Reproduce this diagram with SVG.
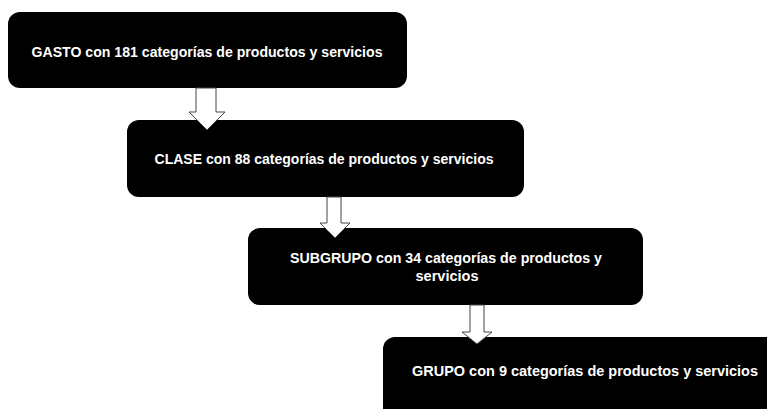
<svg xmlns="http://www.w3.org/2000/svg" width="767" height="409" viewBox="0 0 767 409">
<style>
.box{fill:#000;}
.lbl{fill:#fff;font-family:"Liberation Sans","Open Sans",sans-serif;font-weight:bold;font-size:15px;text-anchor:middle;}
.arr{fill:#fff;stroke:#444;stroke-width:1;stroke-linejoin:miter;}
</style>
<rect width="767" height="409" fill="#fff"/>
<g id="gasto">
<rect class="box" x="8" y="12" width="399" height="76" rx="12"/>
<text class="lbl" x="207" y="57" textLength="351" lengthAdjust="spacingAndGlyphs">GASTO con 181 categorías de productos y servicios</text>
</g>
<g id="clase">
<rect class="box" x="127" y="120" width="397" height="77" rx="12"/>
<text class="lbl" x="324" y="164" textLength="339" lengthAdjust="spacingAndGlyphs">CLASE con 88 categorías de productos y servicios</text>
</g>
<g id="subgrupo">
<rect class="box" x="248" y="228" width="395" height="77" rx="12"/>
<text class="lbl" x="446" y="263" textLength="312" lengthAdjust="spacingAndGlyphs">SUBGRUPO con 34 categorías de productos y</text>
<text class="lbl" x="447" y="281" textLength="63" lengthAdjust="spacingAndGlyphs">servicios</text>
</g>
<g id="grupo">
<path class="box" d="M395,337 H767 V409 H383 V349 A12,12 0 0 1 395,337 Z"/>
<text class="lbl" x="585" y="376" textLength="346" lengthAdjust="spacingAndGlyphs">GRUPO con 9 categorías de productos y servicios</text>
</g>
<g id="connectors">
<polygon class="arr" points="196,88 216,88 216,112 225,112 207,130 189,112 196,112"/>
<polygon class="arr" points="327,197 341,197 341,223 350,223 335,238 320,223 327,223"/>
<polygon class="arr" points="470,305 484,305 484,332 492,332 477,344 462,332 470,332"/>
</g>
</svg>
